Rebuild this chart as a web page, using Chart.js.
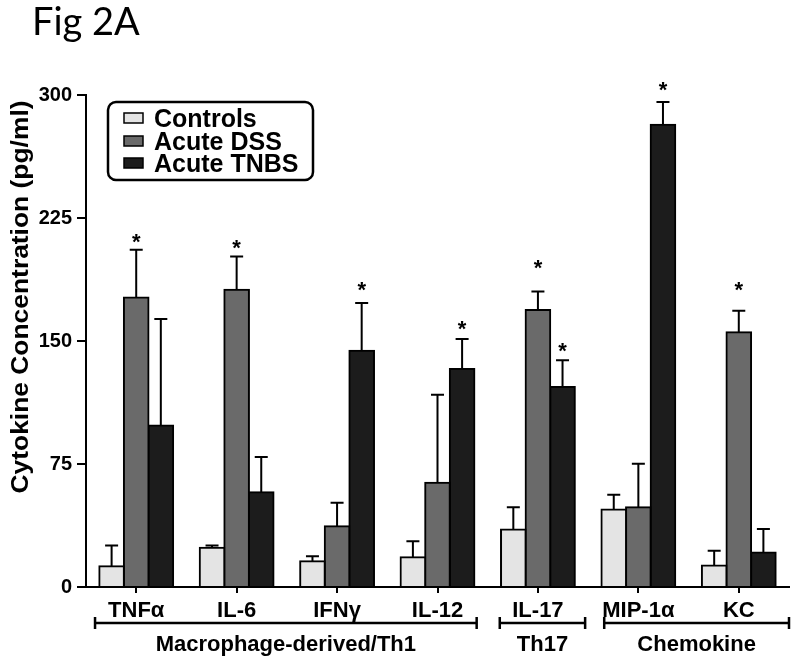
<!DOCTYPE html>
<html>
<head>
<meta charset="utf-8">
<script src="https://cdn.jsdelivr.net/npm/chart.js@4.4.1/dist/chart.umd.min.js"></script>
<style>
  html, body { margin: 0; padding: 0; background: #fff; }
  #wrap { width: 800px; height: 661px; position: relative; }
</style>
</head>
<body>
<div id="wrap"><canvas id="c" width="800" height="661"></canvas></div>
<script>
// ---- data ----
const figTitle = 'Fig 2A';
const yAxisTitle = 'Cytokine Concentration (pg/ml)';
const categories = ['TNFα', 'IL-6', 'IFNγ', 'IL-12', 'IL-17', 'MIP-1α', 'KC'];
const seriesNames = ['Controls', 'Acute DSS', 'Acute TNBS'];

const controls    = [12.7, 23.9, 15.7, 18.2, 35.0, 47.3, 13.1];
const controlsErr = [12.6, 1.4, 3.1, 9.7, 13.6, 9.0, 9.0];

const dss    = [176.5, 181.2, 37.0, 63.5, 168.9, 48.6, 155.3];
const dssErr = [29.1, 20.3, 14.3, 53.8, 11.3, 26.5, 13.2];

const tnbs    = [98.4, 57.7, 144.1, 132.9, 121.9, 281.8, 21.0];
const tnbsErr = [65.0, 21.6, 29.0, 18.3, 16.4, 13.9, 14.3];

// level (in pg/ml) at which the significance asterisk sits
const controlsStars = [null, null, null, null, null, null, null];
const dssStars      = [213.8, 209.9, null, null, 197.9, null, 184.6];
const tnbsStars     = [null, null, 184.3, 160.6, 147.2, 306.5, null];

const yTicks = [0, 75, 150, 225, 300];

const groupNames = ['Macrophage-derived/Th1', 'Th17', 'Chemokine'];
const groupFirst = [0, 4, 5];
const groupLast  = [3, 4, 6];

// ---- styling / layout ----
const FONT = "'Liberation Sans', Arial, Helvetica, sans-serif";
const colors = ['#e4e4e4', '#6a6a6a', '#1c1c1c'];
// bracket extents relative to first/last category index (category units)
const bracketPad = [[0.41, 0.39], [0.38, 0.47], [0.34, 0.50]];

const decor = {
  id: 'decor',
  afterDatasetsDraw(chart) {
    const ctx = chart.ctx;
    const ys = chart.scales.y;
    chart.data.datasets.forEach((ds, di) => {
      const meta = chart.getDatasetMeta(di);
      meta.data.forEach((bar, i) => {
        const top = ys.getPixelForValue(ds.data[i] + ds.errors[i]);
        ctx.save();
        ctx.strokeStyle = '#000';
        ctx.lineWidth = 2;
        ctx.beginPath();
        ctx.moveTo(bar.x, bar.y);
        ctx.lineTo(bar.x, top);
        ctx.moveTo(bar.x - 6.5, top);
        ctx.lineTo(bar.x + 6.5, top);
        ctx.stroke();
        const s = ds.stars[i];
        if (s !== null && s !== undefined) {
          const sy = ys.getPixelForValue(s);
          ctx.fillStyle = '#000';
          ctx.font = 'bold 22px ' + FONT;
          ctx.textAlign = 'center';
          ctx.textBaseline = 'alphabetic';
          ctx.fillText('*', bar.x, sy + 12.5);
        }
        ctx.restore();
      });
    });
  },
  afterDraw(chart) {
    const ctx = chart.ctx;
    const xs = chart.scales.x;
    ctx.save();
    // figure title
    ctx.fillStyle = '#000';
    ctx.font = "38px Lato, 'Open Sans', sans-serif";
    ctx.textAlign = 'left';
    ctx.textBaseline = 'alphabetic';
    ctx.fillText(figTitle, 32, 35);

    // y-axis title (rotated)
    ctx.save();
    ctx.translate(21, 297);
    ctx.rotate(-Math.PI / 2);
    ctx.font = 'bold 24px ' + FONT;
    const yt = chart.options.scales.y.title.text;
    const w = ctx.measureText(yt).width;
    ctx.scale(393 / w, 1);
    ctx.textAlign = 'center';
    ctx.textBaseline = 'middle';
    ctx.fillText(yt, 0, 0);
    ctx.restore();

    // legend box
    ctx.lineWidth = 2.5;
    ctx.strokeStyle = '#000';
    ctx.fillStyle = '#fff';
    ctx.beginPath();
    ctx.roundRect(108, 102, 205, 78, 8);
    ctx.fill();
    ctx.stroke();
    const rows = [118, 141, 163];
    chart.data.datasets.forEach((ds, i) => {
      ctx.fillStyle = ds.backgroundColor;
      ctx.fillRect(124, rows[i] - 5, 19, 10);
      ctx.lineWidth = 1.5;
      ctx.strokeStyle = '#000';
      ctx.strokeRect(124, rows[i] - 5, 19, 10);
      ctx.fillStyle = '#000';
      ctx.font = 'bold 25px ' + FONT;
      ctx.textAlign = 'left';
      ctx.textBaseline = 'alphabetic';
      ctx.fillText(ds.label, 154, rows[i] + 9);
    });

    // group brackets
    const by = 623;
    ctx.strokeStyle = '#000';
    ctx.lineWidth = 2.5;
    groupNames.forEach((g, k) => {
      const x0 = xs.getPixelForValue(groupFirst[k] - bracketPad[k][0]);
      const x1 = xs.getPixelForValue(groupLast[k] + bracketPad[k][1]);
      ctx.beginPath();
      ctx.moveTo(x0, by); ctx.lineTo(x1, by);
      ctx.moveTo(x0, by - 6); ctx.lineTo(x0, by + 6);
      ctx.moveTo(x1, by - 6); ctx.lineTo(x1, by + 6);
      ctx.stroke();
      ctx.fillStyle = '#000';
      ctx.font = 'bold 22px ' + FONT;
      ctx.textAlign = 'center';
      ctx.textBaseline = 'alphabetic';
      ctx.fillText(g, (x0 + x1) / 2, 651);
    });
    ctx.restore();
  }
};

function makeSet(i, values, errs, stars) {
  return {
    label: seriesNames[i],
    data: values,
    errors: errs,
    stars: stars,
    backgroundColor: colors[i],
    borderColor: '#000',
    borderWidth: 2,
    borderSkipped: 'start',
    inflateAmount: 1,
    categoryPercentage: 0.735,
    barPercentage: 1.0
  };
}

new Chart(document.getElementById('c'), {
  type: 'bar',
  data: {
    labels: categories,
    datasets: [
      makeSet(0, controls, controlsErr, controlsStars),
      makeSet(1, dss, dssErr, dssStars),
      makeSet(2, tnbs, tnbsErr, tnbsStars)
    ]
  },
  options: {
    responsive: false,
    animation: false,
    devicePixelRatio: 1,
    layout: { padding: { top: 95, right: 11, left: 0, bottom: 0 } },
    plugins: {
      legend: { display: false },
      tooltip: { enabled: false },
      title: { display: false, text: figTitle }
    },
    scales: {
      x: {
        offset: true,
        grid: { display: true, drawOnChartArea: false, offset: false, drawTicks: true, tickLength: 6, color: '#000', lineWidth: 2 },
        border: { display: true, color: '#000', width: 2 },
        ticks: { color: '#000', font: { family: FONT, size: 22, weight: 'bold', lineHeight: 1.2 }, padding: 5, maxRotation: 0, autoSkip: false },
        afterFit(scale) { scale.height = 74; }
      },
      y: {
        min: 0,
        max: 300,
        afterBuildTicks(scale) { scale.ticks = yTicks.map(v => ({ value: v })); },
        grid: { display: true, drawOnChartArea: false, drawTicks: true, tickLength: 9, color: '#000', lineWidth: 2 },
        border: { display: true, color: '#000', width: 2 },
        ticks: { color: '#000', font: { family: FONT, size: 20, weight: 'bold' }, padding: 5 },
        title: { display: false, text: yAxisTitle },
        afterFit(scale) { scale.width = 86; }
      }
    }
  },
  plugins: [decor]
});
</script>
</body>
</html>
